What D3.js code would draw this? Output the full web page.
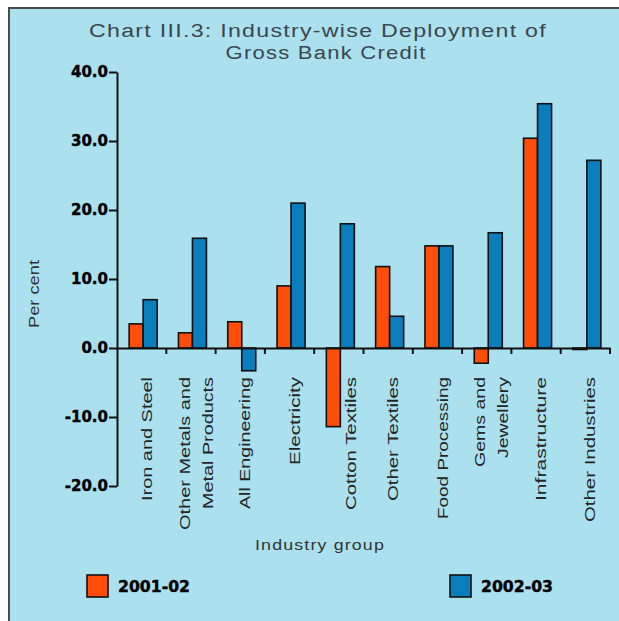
<!DOCTYPE html>
<html>
<head>
<meta charset="utf-8">
<script src="https://cdn.jsdelivr.net/npm/d3@7"></script>
<style>
  html, body { margin: 0; padding: 0; background: #ffffff; }
  svg { display: block; }
</style>
</head>
<body>
<svg id="chart" width="619" height="621"></svg>
<script>
// Industry groups (each entry is one or two label lines)
const categories = [
  ["Iron and Steel"],
  ["Other Metals and", "Metal Products"],
  ["All Engineering"],
  ["Electricity"],
  ["Cotton Textiles"],
  ["Other Textiles"],
  ["Food Processing"],
  ["Gems and", "Jewellery"],
  ["Infrastructure"],
  ["Other Industries"]
];

// Growth in credit, per cent
const series2001 = [3.5, 2.2, 3.8, 9.0, -11.4, 11.8, 14.8, -2.2, 30.4, -0.2];
const series2002 = [7.0, 15.9, -3.3, 21.0, 18.0, 4.6, 14.8, 16.7, 35.4, 27.2];

const seriesNames = ["2001-02", "2002-03"];
const yTicks = [40, 30, 20, 10, 0, -10, -20];

const colors = ["#ff4d0a", "#0a7dbd"];
const bg = "#abe0ee";

const svg = d3.select("#chart");

// panel
svg.append("rect")
  .attr("x", 9).attr("y", 8)
  .attr("width", 640).attr("height", 640)
  .attr("fill", bg)
  .attr("stroke", "#4a4a4a").attr("stroke-width", 2);

// title
const titleColor = "#3a4650";
svg.append("text")
  .attr("x", 318).attr("y", 37)
  .attr("text-anchor", "middle")
  .attr("font-family", "Liberation Sans, Arial, sans-serif")
  .attr("font-size", 18)
  .attr("fill", titleColor)
  .attr("textLength", 458).attr("lengthAdjust", "spacingAndGlyphs")
  .style("letter-spacing", "1px")
  .text("Chart III.3: Industry-wise Deployment of");
svg.append("text")
  .attr("x", 326).attr("y", 59)
  .attr("text-anchor", "middle")
  .attr("font-family", "Liberation Sans, Arial, sans-serif")
  .attr("font-size", 18)
  .attr("fill", titleColor)
  .attr("textLength", 201).attr("lengthAdjust", "spacingAndGlyphs")
  .style("letter-spacing", "1px")
  .text("Gross Bank Credit");

// scales
const x0 = d3.scaleBand()
  .domain(d3.range(categories.length))
  .range([117, 610])
  .paddingInner(0).paddingOuter(0);

const y = d3.scaleLinear().domain([-20, 40]).range([486, 72]);

const barW = 14;
const labelTop = 377;

// y axis
const yAxis = d3.axisLeft(y).tickValues(yTicks).tickSize(8).tickSizeOuter(0)
  .tickFormat(d => d.toFixed(1));
const gy = svg.append("g").attr("transform", "translate(117,0)").call(yAxis);
gy.select(".domain").attr("stroke", "#111").attr("stroke-width", 2);
gy.selectAll(".tick line").attr("stroke", "#111").attr("stroke-width", 2);
gy.selectAll(".tick text")
  .attr("x", -9)
  .attr("font-family", "DejaVu Sans, sans-serif")
  .attr("font-weight", "bold")
  .attr("font-size", 15)
  .attr("fill", "#000")
  .attr("stroke", "#000").attr("stroke-width", 0.4);

// category labels, rotated; shifted right past a long negative bar
const labelLengths = {
  "Iron and Steel": 124, "Other Metals and": 153, "Metal Products": 132,
  "All Engineering": 132, "Electricity": 88, "Cotton Textiles": 133,
  "Other Textiles": 124, "Food Processing": 142, "Gems and": 90,
  "Jewellery": 81, "Infrastructure": 124, "Other Industries": 145
};
categories.forEach((lines, i) => {
  const clash = y(series2001[i]) > labelTop;
  const cx = x0(i) + x0.bandwidth() / 2 + (clash ? 12 : 4.5);
  const gap = 23;
  lines.forEach((ln, j) => {
    const off = (j - (lines.length - 1) / 2) * gap;
    svg.append("text")
      .attr("transform", `translate(${cx + off},${labelTop}) rotate(-90)`)
      .attr("text-anchor", "end")
      .attr("dy", "0.36em")
      .attr("font-family", "Liberation Sans, Arial, sans-serif")
      .attr("font-size", 15.5)
      .attr("fill", "#262626")
      .attr("textLength", labelLengths[ln]).attr("lengthAdjust", "spacingAndGlyphs")
      .text(ln);
  });
});

// bars
const groups = svg.append("g");
categories.forEach((c, i) => {
  const cx = x0(i) + x0.bandwidth() / 2 + 1.5;
  [series2001[i], series2002[i]].forEach((v, s) => {
    const bx = cx - barW + s * barW;
    groups.append("rect")
      .attr("x", bx)
      .attr("y", y(Math.max(0, v)))
      .attr("width", barW)
      .attr("height", Math.max(1.5, Math.abs(y(v) - y(0))))
      .attr("fill", colors[s])
      .attr("stroke", "#111")
      .attr("stroke-width", 1.6);
  });
});

// x axis along zero
const xAxis = d3.axisBottom(x0).tickSize(0).tickFormat("");
const gx = svg.append("g").attr("transform", `translate(0,${y(0)})`).call(xAxis);
gx.select(".domain").attr("stroke", "#111").attr("stroke-width", 2);
gx.selectAll(".tick").remove();
// tick marks between groups
const bounds = d3.range(1, categories.length + 1).map(i => x0(0) + i * x0.bandwidth());
gx.selectAll("line.sep").data(bounds).enter().append("line")
  .attr("class", "sep")
  .attr("x1", d => d).attr("x2", d => d)
  .attr("y1", 0).attr("y2", 6)
  .attr("stroke", "#111").attr("stroke-width", 2);

// axis titles
svg.append("text")
  .attr("transform", "translate(39,294) rotate(-90)")
  .attr("text-anchor", "middle")
  .attr("font-family", "Liberation Sans, Arial, sans-serif")
  .attr("font-size", 15)
  .attr("fill", "#333")
  .attr("textLength", 68).attr("lengthAdjust", "spacingAndGlyphs")
  .text("Per cent");

svg.append("text")
  .attr("x", 320).attr("y", 550)
  .attr("text-anchor", "middle")
  .attr("font-family", "Liberation Sans, Arial, sans-serif")
  .attr("font-size", 15.5)
  .attr("fill", "#333")
  .attr("textLength", 130).attr("lengthAdjust", "spacingAndGlyphs")
  .style("letter-spacing", "1px")
  .text("Industry group");

// legend
const legendX = [87, 450];
seriesNames.forEach((name, s) => {
  svg.append("rect")
    .attr("x", legendX[s]).attr("y", 575)
    .attr("width", 21).attr("height", 22)
    .attr("fill", colors[s])
    .attr("stroke", "#111").attr("stroke-width", 1.6);
  svg.append("text")
    .attr("x", legendX[s] + 31).attr("y", 592)
    .attr("font-family", "DejaVu Sans, sans-serif")
    .attr("font-weight", "bold")
    .attr("font-size", 15)
    .attr("fill", "#000")
    .attr("stroke", "#000").attr("stroke-width", 0.4)
    .attr("textLength", 72).attr("lengthAdjust", "spacingAndGlyphs")
    .text(name);
});
</script>
</body>
</html>
